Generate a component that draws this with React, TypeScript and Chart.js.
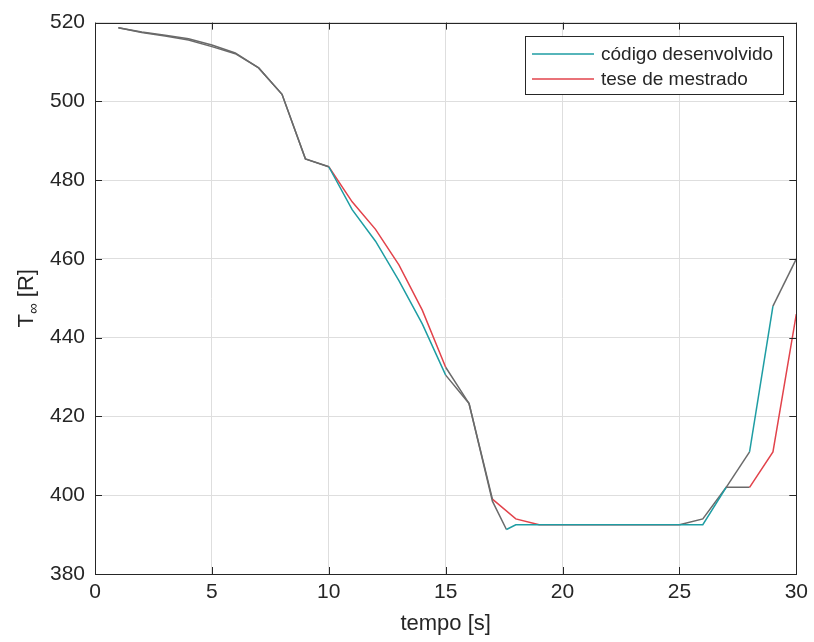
import { useEffect, useRef } from "react";
import { Chart, registerables } from "chart.js";

Chart.register(...registerables);

// Temperature history T∞ [R] over time [s]
const tempoCodigo = [1, 2, 3, 4, 5, 6, 7, 8, 9, 10, 11, 12, 13, 14, 15, 16, 17, 17.6, 18, 19, 20, 21, 22, 23, 24, 25, 26, 27, 28, 29, 30];
const tempCodigo = [518.7, 517.6, 516.8, 515.9, 514.3, 512.3, 508.5, 501.8, 485.4, 483.4, 472.5, 464.5, 454.5, 443.5, 430.5, 423.3, 398.5, 391.3, 392.5, 392.5, 392.5, 392.5, 392.5, 392.5, 392.5, 392.5, 392.5, 402, 411, 448, 460];

const tempoTese = [1, 2, 3, 4, 5, 6, 7, 8, 9, 10, 11, 12, 13, 14, 15, 16, 17, 18, 19, 20, 21, 22, 23, 24, 25, 26, 27, 28, 29, 30];
const tempTese = [518.7, 517.5, 516.6, 515.6, 513.9, 512.1, 508.5, 501.8, 485.4, 483.4, 474.5, 467.5, 458.5, 447, 432.5, 423.3, 399, 394, 392.5, 392.5, 392.5, 392.5, 392.5, 392.5, 392.5, 394, 402, 402, 411, 446];

const xTicks = [0, 5, 10, 15, 20, 25, 30];
const yTicks = [380, 400, 420, 440, 460, 480, 500, 520];

const legendLabels = ["código desenvolvido", "tese de mestrado"];
const xTitle = "tempo [s]";

const TEAL = "#1e9da3";
const RED = "#e2434b";
const GRAY = "#6a6a6a";
const INK = "#262626";
const FONT = "'Liberation Sans', Arial, Helvetica, sans-serif";

// time spans where the stroke reads as dark gray
const grayCodigo: [number, number][] = [[0, 10], [15, 17.6], [27, 28], [29, 30]];
const grayTese: [number, number][] = [[0, 10], [15, 17], [25, 28]];

const toPoints = (xs: number[], ys: number[]) => xs.map((x, i) => ({ x, y: ys[i] }));

const segColor = (xs: number[], spans: [number, number][], base: string) => (ctx: any) => {
  const a = xs[ctx.p0DataIndex];
  const b = xs[ctx.p1DataIndex];
  return spans.some(([s, e]) => a >= s && b <= e) ? GRAY : base;
};

const framePlugin = {
  id: "frame",
  afterDraw(chart: any) {
    const { ctx, chartArea: a, scales } = chart;
    const xs = scales.x;
    const ys = scales.y;
    ctx.save();
    // axes box
    ctx.strokeStyle = INK;
    ctx.lineWidth = 1;
    ctx.strokeRect(Math.round(a.left) + 0.5, Math.round(a.top) + 0.5, Math.round(a.right - a.left), Math.round(a.bottom - a.top));
    // inward ticks on every side
    const tl = 7;
    ctx.beginPath();
    xTicks.forEach((v) => {
      const px = Math.round(xs.getPixelForValue(v)) + 0.5;
      ctx.moveTo(px, a.bottom);
      ctx.lineTo(px, a.bottom - tl);
      ctx.moveTo(px, a.top);
      ctx.lineTo(px, a.top + tl);
    });
    yTicks.forEach((v) => {
      const py = Math.round(ys.getPixelForValue(v)) + 0.5;
      ctx.moveTo(a.left, py);
      ctx.lineTo(a.left + tl, py);
      ctx.moveTo(a.right, py);
      ctx.lineTo(a.right - tl, py);
    });
    ctx.stroke();

    // x axis title
    ctx.fillStyle = INK;
    ctx.font = `22px ${FONT}`;
    ctx.textAlign = "center";
    ctx.textBaseline = "alphabetic";
    ctx.fillText(xTitle, (a.left + a.right) / 2, 630);

    // y axis title: T with ∞ subscript, then [R]
    const cy = (a.top + a.bottom) / 2;
    ctx.save();
    ctx.translate(33, cy);
    ctx.rotate(-Math.PI / 2);
    ctx.textAlign = "left";
    const big = `22px ${FONT}`;
    const small = `15px ${FONT}`;
    ctx.font = big;
    const wT = ctx.measureText("T").width;
    const wR = ctx.measureText(" [R]").width;
    ctx.font = small;
    const wInf = ctx.measureText("∞").width;
    let x0 = -(wT + wInf + wR) / 2;
    ctx.font = big;
    ctx.fillText("T", x0, 0);
    x0 += wT;
    ctx.font = small;
    ctx.fillText("∞", x0, 5);
    x0 += wInf;
    ctx.font = big;
    ctx.fillText(" [R]", x0, 0);
    ctx.restore();

    // legend
    const lx = 525.5, ly = 36.5, lw = 258, lh = 58;
    ctx.fillStyle = "#ffffff";
    ctx.fillRect(lx, ly, lw, lh);
    ctx.strokeStyle = INK;
    ctx.strokeRect(lx, ly, lw, lh);
    const rows = [
      { label: legendLabels[0], color: TEAL, y: 54 },
      { label: legendLabels[1], color: RED, y: 79 },
    ];
    ctx.font = `19px ${FONT}`;
    ctx.textBaseline = "middle";
    ctx.textAlign = "left";
    rows.forEach((r) => {
      ctx.strokeStyle = r.color;
      ctx.lineWidth = 1.5;
      ctx.beginPath();
      ctx.moveTo(532, r.y);
      ctx.lineTo(594, r.y);
      ctx.stroke();
      ctx.fillStyle = INK;
      ctx.fillText(r.label, 601, r.y + 1);
    });
    ctx.restore();
  },
};

export default function App() {
  const ref = useRef<HTMLCanvasElement | null>(null);

  useEffect(() => {
    if (!ref.current) return;
    const chart = new Chart(ref.current, {
      type: "line",
      data: {
        datasets: [
          {
            label: legendLabels[0],
            data: toPoints(tempoCodigo, tempCodigo),
            borderColor: TEAL,
            borderWidth: 1.5,
            pointRadius: 0,
            tension: 0,
            segment: { borderColor: segColor(tempoCodigo, grayCodigo, TEAL) },
          },
          {
            label: legendLabels[1],
            data: toPoints(tempoTese, tempTese),
            borderColor: RED,
            borderWidth: 1.5,
            pointRadius: 0,
            tension: 0,
            segment: { borderColor: segColor(tempoTese, grayTese, RED) },
          },
        ],
      },
      options: {
        responsive: false,
        animation: false,
        parsing: false as any,
        layout: { padding: { left: 0, top: 20, right: 15, bottom: 0 } },
        plugins: { legend: { display: false }, tooltip: { enabled: false } },
        scales: {
          x: {
            type: "linear",
            min: xTicks[0],
            max: xTicks[xTicks.length - 1],
            afterBuildTicks: (s: any) => {
              s.ticks = xTicks.map((v) => ({ value: v }));
            },
            afterFit: (s: any) => {
              s.height = 68;
            },
            ticks: { font: { size: 21, family: FONT }, color: INK, padding: 6, maxRotation: 0 },
            grid: { color: "#dedede", drawTicks: false },
            border: { display: false },
          },
          y: {
            type: "linear",
            min: yTicks[0],
            max: yTicks[yTicks.length - 1],
            afterBuildTicks: (s: any) => {
              s.ticks = yTicks.map((v) => ({ value: v }));
            },
            afterFit: (s: any) => {
              s.width = 95;
            },
            ticks: { font: { size: 21, family: FONT }, color: INK, padding: 10 },
            grid: { color: "#dedede", drawTicks: false },
            border: { display: false },
          },
        },
      },
      plugins: [framePlugin],
    });
    return () => chart.destroy();
  }, []);

  return (
    <div style={{ position: "fixed", left: 0, top: 0, width: 814, height: 642, background: "#fff" }}>
      <canvas ref={ref} width={814} height={642} style={{ display: "block" }} />
    </div>
  );
}
